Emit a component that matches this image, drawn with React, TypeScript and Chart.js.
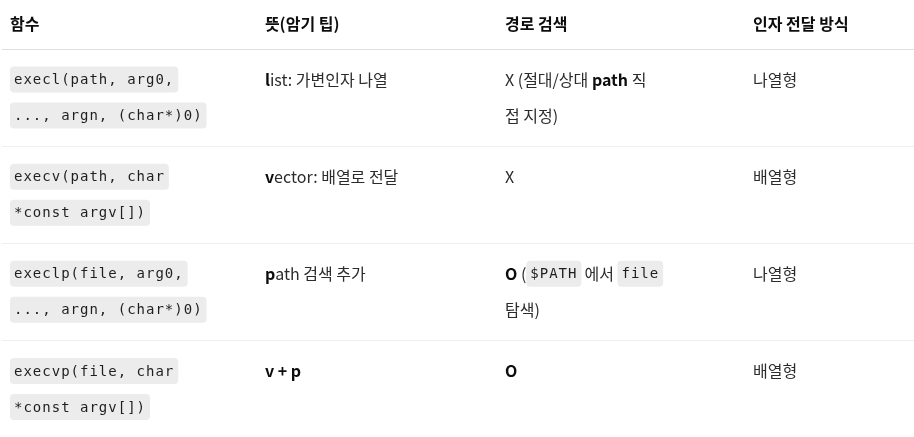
import { useEffect, useRef } from "react";
import { Chart, registerables } from "chart.js";

Chart.register(...registerables);

// ── Table data (markup: **bold**, `code`, lines split by \n) ──────

const HEADERS = ["함수", "뜻(암기 팁)", "경로 검색", "인자 전달 방식"];

const FUNCS = [
  "`execl(path, arg0,`\n`..., argn, (char*)0)`",
  "`execv(path, char`\n`*const argv[])`",
  "`execlp(file, arg0,`\n`..., argn, (char*)0)`",
  "`execvp(file, char`\n`*const argv[])`",
];

const MEANINGS = [
  "**l**ist: 가변인자 나열",
  "**v**ector: 배열로 전달",
  "**p**ath 검색 추가",
  "**v + p**",
];

const SEARCH = [
  "X (절대/상대 **path** 직\n접 지정)",
  "X",
  "**O** (`$PATH`에서 `file`\n탐색)",
  "**O**",
];

const ARGS = ["나열형", "배열형", "나열형", "배열형"];

// layout constants
const COL_WEIGHTS = [1.118, 1.053, 1.088, 0.741];
const HEADER_UNITS = 0.5;
const BODY_FONT = '16px "Noto Sans CJK KR", "Noto Sans", sans-serif';
const BOLD_FONT = 'bold 16px "Noto Sans CJK KR", "Noto Sans", sans-serif';
const CODE_FONT = '14px "DejaVu Sans Mono", monospace';

type Seg = { text: string; kind: "n" | "b" | "c" };

function parseLine(line: string): Seg[] {
  const out: Seg[] = [];
  const re = /(\*\*[^*]+\*\*|`[^`]+`)/g;
  let last = 0;
  let m: RegExpExecArray | null;
  while ((m = re.exec(line))) {
    if (m.index > last) out.push({ text: line.slice(last, m.index), kind: "n" });
    const t = m[0];
    if (t.startsWith("**")) out.push({ text: t.slice(2, -2), kind: "b" });
    else out.push({ text: t.slice(1, -1), kind: "c" });
    last = m.index + t.length;
  }
  if (last < line.length) out.push({ text: line.slice(last), kind: "n" });
  return out;
}

function colStart(i: number) {
  return COL_WEIGHTS.slice(0, i).reduce((a, b) => a + b, 0);
}

function drawCell(ctx: CanvasRenderingContext2D, cell: string, x: number, top: number) {
  cell.split("\n").forEach((line, li) => {
    const cy = top + 31 + li * 36;
    let cx = x;
    parseLine(line).forEach((s) => {
      if (s.kind === "c") {
        ctx.font = CODE_FONT;
        (ctx as any).letterSpacing = "1px";
        const w = ctx.measureText(s.text).width + 8;
        ctx.fillStyle = "#ececec";
        ctx.beginPath();
        ctx.roundRect(cx, cy - 13, w, 26, 4);
        ctx.fill();
        ctx.fillStyle = "#1f1f1f";
        ctx.fillText(s.text, cx + 4, cy + 1);
        (ctx as any).letterSpacing = "0px";
        cx += w + 3;
      } else {
        ctx.font = s.kind === "b" ? BOLD_FONT : BODY_FONT;
        ctx.fillStyle = s.kind === "b" ? "#0d0d0d" : "#2b2b2b";
        ctx.fillText(s.text, cx, cy);
        cx += ctx.measureText(s.text).width;
      }
    });
  });
}

const tablePlugin = {
  id: "tableCells",
  afterDraw(chart: Chart) {
    const { ctx } = chart;
    const xs = chart.scales.x;
    const ys = chart.scales.y;
    const columns = [FUNCS, MEANINGS, SEARCH, ARGS];
    ctx.save();
    ctx.textBaseline = "middle";
    ctx.textAlign = "left";

    // header
    ctx.font = BOLD_FONT;
    ctx.fillStyle = "#0d0d0d";
    HEADERS.forEach((h, i) => {
      ctx.fillText(h, xs.getPixelForValue(colStart(i)) + 8, ys.getPixelForValue(HEADER_UNITS / 2));
    });

    // separators
    for (let r = 0; r < FUNCS.length; r++) {
      const yy = Math.round(ys.getPixelForValue(HEADER_UNITS + r)) + 0.5;
      ctx.strokeStyle = r === 0 ? "#e0e0e0" : "#efefef";
      ctx.lineWidth = 1;
      ctx.beginPath();
      ctx.moveTo(chart.chartArea.left, yy);
      ctx.lineTo(chart.chartArea.right, yy);
      ctx.stroke();
    }

    // body cells
    for (let r = 0; r < FUNCS.length; r++) {
      const top = ys.getPixelForValue(HEADER_UNITS + r);
      columns.forEach((col, c) => {
        drawCell(ctx, col[r], xs.getPixelForValue(colStart(c)) + 8, top);
      });
    }
    ctx.restore();
  },
};

export default function App() {
  const canvasRef = useRef<HTMLCanvasElement>(null);

  useEffect(() => {
    document.body.style.margin = "0";
    document.body.style.background = "#ffffff";
    if (!canvasRef.current) return;
    const chart = new Chart(canvasRef.current, {
      type: "scatter",
      plugins: [tablePlugin],
      data: { datasets: [{ data: [] }] },
      options: {
        animation: false,
        responsive: true,
        maintainAspectRatio: false,
        layout: { padding: { left: 2, right: 0, top: 0, bottom: 0 } },
        plugins: { legend: { display: false }, tooltip: { enabled: false } },
        scales: {
          x: { type: "linear", min: 0, max: colStart(4), display: false },
          y: { type: "linear", min: 0, max: HEADER_UNITS + FUNCS.length, reverse: true, display: false },
        },
      },
    });
    return () => chart.destroy();
  }, []);

  return (
    <div style={{ width: 914, height: 437 }}>
      <canvas ref={canvasRef} />
    </div>
  );
}
